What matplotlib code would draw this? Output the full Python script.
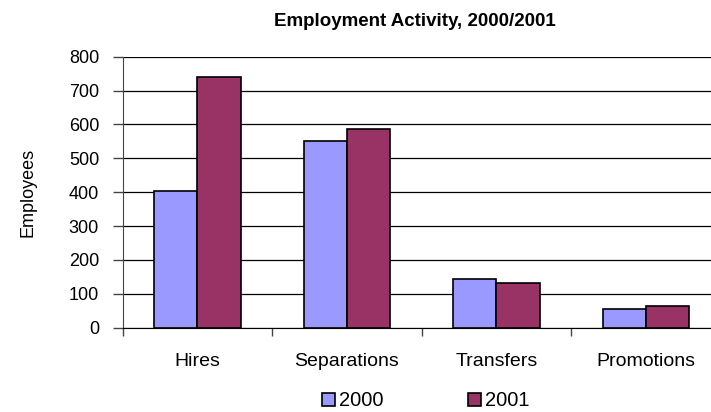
import numpy as np
import matplotlib.pyplot as plt

plt.rcParams['font.family'] = ['Liberation Sans', 'DejaVu Sans']

categories = ["Hires", "Separations", "Transfers", "Promotions"]
years = ["2000", "2001"]
vals_2000 = [405, 552, 144, 55]
vals_2001 = [740, 588, 133, 65]
yticks = [0, 100, 200, 300, 400, 500, 600, 700, 800]

col_2000 = "#9999FF"
col_2001 = "#993366"

W, H = 711, 412
fig = plt.figure(figsize=(W / 100, H / 100), dpi=100)
# plot area runs off the right edge of the picture, as in the original
ax = fig.add_axes([122.7 / W, (H - 327.7) / H, (720.7 - 122.7) / W, (327.7 - 56.7) / H])

x = np.arange(len(categories))
bw = 0.29
ax.bar(x - bw / 2, vals_2000, bw, color=col_2000, edgecolor="black", linewidth=1.2, label=years[0], zorder=3)
ax.bar(x + bw / 2, vals_2001, bw, color=col_2001, edgecolor="black", linewidth=1.2, label=years[1], zorder=3)

ax.set_xlim(-0.5, 3.5)
ax.set_ylim(0, 800)
ax.set_yticks(yticks)
ax.set_yticklabels([str(v) for v in yticks], fontsize=13)
ax.set_xticks(x)
ax.set_xticklabels(categories, fontsize=14)
ax.set_xticks(np.arange(-0.5, 3.5, 1), minor=True)
ax.tick_params(axis="x", which="major", length=0, pad=18)
ax.tick_params(axis="x", which="minor", length=6, width=1, color="#444444", direction="out")
ax.tick_params(axis="y", length=7, width=1, color="#444444", pad=10)

ax.yaxis.grid(True, color="black", linewidth=0.9, zorder=0)
ax.set_axisbelow(True)
for s in ["top", "right"]:
    ax.spines[s].set_visible(False)
ax.spines["left"].set_color("#444444")
ax.spines["bottom"].set_color("black")

ax.set_ylabel("Employees", fontsize=13)
ax.yaxis.set_label_coords((36 - 122.7) / 598, 0.5)

fig.text(415 / W, 1 - 21 / H, "Employment Activity, 2000/2001", ha="center", va="center",
         fontsize=13.5, fontweight="bold")

fig.legend(loc="center", bbox_to_anchor=(426 / W, 1 - 401 / H), ncol=2, frameon=False,
           fontsize=14.5, handlelength=0.65, handleheight=0.65, handletextpad=0.2,
           columnspacing=4.2)

fig.savefig("out.png", dpi=100)
